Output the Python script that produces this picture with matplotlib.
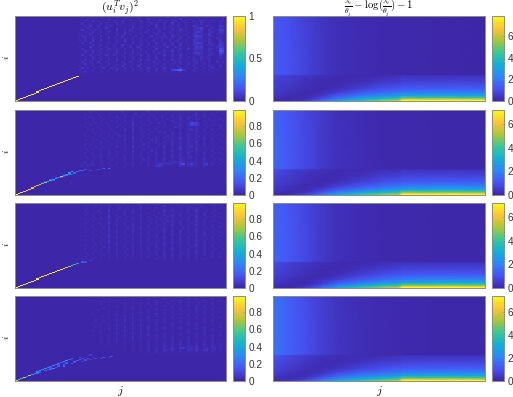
import numpy as np
import matplotlib
matplotlib.use("Agg")
import matplotlib.pyplot as plt
from matplotlib.colors import LinearSegmentedColormap

plt.rcParams['font.family'] = ['Liberation Sans', 'DejaVu Sans']
plt.rcParams['mathtext.fontset'] = 'cm'

parula = LinearSegmentedColormap.from_list('parula', [
    (0.2422, 0.1504, 0.6603), (0.2810, 0.3228, 0.9579), (0.1786, 0.5289, 0.9682),
    (0.0689, 0.6948, 0.8394), (0.2161, 0.7843, 0.5923), (0.6720, 0.7793, 0.2227),
    (0.9970, 0.7659, 0.2199), (0.9769, 0.9839, 0.0805)])

# left column: digit = overlap value / 0.02, rows top to bottom, columns 24..79
noise_1 = [
    "01001000200100110010002001000100131020011000100010010010",
    "10020010010200100201001000201011000100300110020100100020",
    "00100301000101002001000300100020010120011002002100100110",
    "02001000201000201000100100020100200301001000102011000100",
    "00103002001020010100200010100300101002001003110021000320",
    "10020001003000200100300201000100200100102001224100200210",
    "03001020100100300102001000200010100200301002113002001430",
    "00100300200200100200100103001020002001100101332001200320",
    "10002001001000200301000200100200100101002002211103001110",
    "02100100300100102001020010030010200300100102433002100100",
    "00200200100301001000200100100102010100200101322001002100",
    "10100300200100200300100201002001002002001003211102000200",
    "03002001000200100100300100200300100200101002343002100320",
    "00100200301002003001000200100100200100300102222011200410",
    "10003001002001001002003001002010030020100101423001002330",
    "02001000200300100200100200100300100100200302322002100640",
    "00200301001000300100200101002000200302001001211002001860",
    "10100200200100200200301002001020100100100102332001200540",
    "03002001003002001001000300200100300200301001121002100210",
    "00100300100100100200200100100200100100200101002011000100",
    "10200100200200300100100300200100200301001002101002001000",
    "02001003001001002002001001003010010020200101201001002010",
    "00300200100300100300100200100200200100100200100201000100",
    "10100100201001002001003001002001001002001002001002100200",
    "03020010030020100200100200300100300100300100200100200100",
    "20100200100100300100200100100200100467931002001001001000",
    "01200100200100100100100100100100100101201001000100100000",
]
noise_2 = [
    "00000100001000100000100100001000100001001100110000100100",
    "00001000100010002000100000200100010010100100100100001000",
    "00100001000100000100020010010000100100010000200100100010",
    "00001000100000200100100100001002000100100110100100010000",
    "00100100010100010000200000100100010010200100110001000100",
    "00000100100010100200100100100001000200100110100100100010",
    "00100010001000100000300100010020100010100154410010010000",
    "00001000100100010100200010100000100100200143320100100100",
    "00100001000100200000100100000100100020100100110010000100",
    "00010100100010000200300100100100001000100120200100100010",
    "00000100010001000100200010010020100100100100100100010000",
    "00100010100100100000100100100000100200200110100010100100",
    "00010000100100020100200010000100020100100100120100010010",
    "00000100010010000100300100100100100100300200100200100000",
    "00100010001000100200100100020100010100100110100100100100",
    "00000100200100010000200100100100100200100100200100010010",
    "00101000100010100100100020100010100100100110100100100000",
    "00000010010100200100300100100100200100200120100100010100",
    "00100100200100000100100010010100100100300100200010100010",
    "00010000100100100100200100020100100200100110100100100000",
    "00100100100200100000100100100200100100100200100100010100",
    "00000100200100100100200100010100100100200100110100100010",
    "00100010100100100200100100100100100200100120100100100000",
    "00010100100010000100100020100100200100210100100200010100",
    "00100100200100100100100100100100101120310110100100100010",
    "00101200100100100010100100100133122100360241100240100100",
    "11020100010010000100100000100232000000210120100110000000",
]
noise_3 = [
    "00010000100010000100001000100010000100010000100000100000",
    "00100010000200100000100100000100200001000100001000010010",
    "00000100100100020010000200100100000100100010100100000100",
    "00100001000300100100200100001000200100000100200010010000",
    "00010010100100000200100100100010100010100100100100100100",
    "00100100000200100100000200001000100200100010100200010000",
    "00000100100300010010100100100100010100100100200010100100",
    "00100010100100200100200100010010100100010100100100010010",
    "00010100000200100010100200100100020100100100200100100000",
    "00100001100300100100100100010100100100200010100100000100",
    "00000100100100200100200100100010100200100100200100100010",
    "00100100010200100010100200100100100100010100100010100100",
    "00010010100300100100100100010100200100100100200100010000",
    "00100100100100200100200100100010100100200100100100100100",
    "00000100010200100100100200100100100200100010100200010010",
    "00100010100300100010100100010100100100100100200100100100",
    "00010100100100200100200100100100200100100100100010100000",
    "00100100010200100100100100100010100100200100200100100100",
    "00000100100300100010100200100100100200100100100100010010",
    "00100010100100200100100100010100200100100100200100100000",
    "00010100010200100100200100100100100100100010100100100100",
    "00100100100100100010100100100010100200100100100100010010",
    "00000010100200100100100100100100100100100100200100100000",
    "00100100100100200100100100010100100100210100100100100100",
    "00010100010100100010100100100100200100100100100100100000",
    "00100010100100100100100100100010100100100100100000100100",
    "01000100100100100100000100000100100100100100100100000000",
]
noise_4 = [
    "00000000010000000100000100001000010000100100001000000000",
    "00000000000100000000100000100000100010000100100000100000",
    "00000100000000100100000100000100000100100000100100000100",
    "00000000100000000000100000100100010000100100010000100000",
    "00000000000100100100000100010000100100000100100100000000",
    "00000000010000100000200100000100000100100000200100100100",
    "00000001000100000100100000100100100000100100100000100000",
    "00000000000100100100000200100000100100010000100100000100",
    "00000100000000100000200100000200100000100100000100100000",
    "00000000010100100200100100100100000100000100100000100000",
    "00000000000100000100200000200000100100100000100100000100",
    "00000010010000200200100200100100100000100100000100100000",
    "00000000100100100000200100000200100100100100100100000100",
    "00000100000100200100200200100100000100000100100000100000",
    "00000010100100100200100100200000100100100000100100000100",
    "00000000000200200100200100100100100000100100100100100000",
    "00000100100100100200100200100100000100000100000100100100",
    "00000000100000200100200100100000100100100100100100000000",
    "00000100000100100200100100200100100000100000100100100100",
    "00000000100100100100200100000100100100000100100000100000",
    "00000000000100200000100100100100000100100100000100100100",
    "00000000100100100100100000100100100100100100100100100000",
    "00000000000000100100100100100000100100200100100100100100",
    "00000000000100000000100100100100200100100200200100200100",
    "00000000000000000100000100100100100200230120210120120100",
    "00000000000000000000100100100100210200100220310230110100",
    "00000000000000000000000000100200100100100100100100100000",
]
noise_scale = 0.02

# ridge near the diagonal: (row, column, value)
ridge_1 = [(k, k, v) for k, v in enumerate(
    [1, .95, .98, .9, .98, .95, 1, .92, .98, .94, 1, .9, .98, .93, 1, .92, .97, .95, 1, .92, .98, .95, .97, .9])]
ridge_2 = [(k, k, v) for k, v in enumerate(
    [.99, .9, .95, .85, .92, .88, .8, .9, .75, .8, .6, .72, .45, .55, .35, .4, .3, .75, .5, .3, .35, .45])] + [
    (11, 10, .1), (12, 11, .12), (14, 13, .15), (16, 15, .15), (17, 18, .15), (18, 19, .2), (19, 20, .25),
    (21, 23, .2), (22, 24, .25), (22, 25, .15), (23, 26, .12), (22, 28, .12), (23, 31, .12), (24, 33, .14), (24, 35, .2),
    (13, 14, .14), (16, 17, .14), (19, 21, .15), (20, 22, .2)]
ridge_3 = [(k, k, v) for k, v in enumerate(
    [1, .95, .98, .9, .98, .93, .97, .92, .98, .94, .96, .9, .97, .93, .96, .9, .95, .92, .85, .8, .7, .6, .5, .35])] + [
    (24, 25, .15), (24, 26, .1), (25, 28, .08)]
ridge_4 = [(k, k, v) for k, v in enumerate(
    [.9, .6, .55, .85, .3, .75, .4, .35, .3, .4, .3, .35, .3, .2, .35, .25, .2, .15, .3, .35, .2, .15])] + [
    (9, 11, .2), (10, 13, .18), (11, 14, .3), (13, 16, .2), (13, 18, .3), (14, 16, .12), (15, 18, .2),
    (17, 19, .18), (16, 21, .15), (18, 22, .2), (20, 24, .22), (19, 26, .15), (21, 27, .12), (21, 30, .12),
    (22, 33, .14), (23, 36, .14), (20, 28, .08), (18, 25, .08), (22, 24, .12), (24, 28, .08),
    (7, 8, .2), (8, 9, .15), (11, 13, .12), (12, 15, .15), (14, 18, .12), (16, 19, .14), (12, 13, .14), (15, 16, .12),
    (10, 12, .14), (17, 22, .1), (19, 23, .14), (20, 26, .14), (21, 25, .12), (21, 32, .1), (22, 35, .08)]

# right column: coarse table, rows bottom to top
col_grid = [0, 6, 12, 18, 24, 32, 40, 47, 48, 60, 79]
row_grid = [0, 1, 2, 3, 5, 8, 12, 18, 24, 25, 50, 79]
kl_1 = [
    [.1, .2, .7, 1.6, 3.0, 4.2, 5.5, 6.2, 7.8, 7.8, 7.8],
    [.1, .1, .5, 1.4, 2.7, 3.9, 5.0, 5.8, 7.7, 7.7, 7.7],
    [.2, .1, .3, 1.1, 2.3, 3.3, 4.2, 4.8, 6.3, 6.3, 6.3],
    [.3, .1, .2, .8, 1.8, 2.7, 3.4, 3.9, 4.7, 4.7, 4.7],
    [.4, .2, .1, .45, 1.2, 1.9, 2.4, 2.8, 3.1, 3.1, 3.1],
    [.5, .3, .1, .2, .6, 1.2, 1.6, 1.9, 2.0, 2.1, 2.1],
    [.6, .4, .2, .1, .2, .6, .95, 1.15, 1.25, 1.3, 1.3],
    [.7, .5, .3, .15, .1, .2, .45, .6, .65, .7, .7],
    [.8, .6, .4, .25, .15, .12, .18, .25, .3, .3, .3],
    [1.3, 1.05, .75, .45, .22, .16, .1, .08, .08, .05, .03],
    [1.3, 1.05, .75, .45, .22, .16, .1, .08, .08, .05, .03],
    [1.25, 1.0, .7, .42, .22, .16, .1, .08, .08, .05, .03],
]
kl_2 = [
    [.1, .3, .9, 1.9, 3.0, 4.0, 5.2, 5.8, 7.2, 7.2, 7.2],
    [.1, .2, .7, 1.6, 2.7, 3.7, 4.7, 5.3, 7.1, 7.1, 7.1],
    [.2, .1, .5, 1.3, 2.3, 3.2, 3.9, 4.4, 5.8, 5.8, 5.8],
    [.3, .1, .3, 1.0, 1.8, 2.6, 3.2, 3.6, 4.4, 4.4, 4.4],
    [.4, .2, .15, .55, 1.2, 1.8, 2.3, 2.6, 2.9, 3.0, 3.0],
    [.5, .3, .1, .25, .65, 1.15, 1.5, 1.8, 1.9, 2.0, 2.0],
    [.6, .4, .2, .1, .25, .6, .9, 1.1, 1.2, 1.25, 1.25],
    [.75, .5, .3, .15, .1, .25, .45, .6, .65, .7, .7],
    [.9, .65, .45, .25, .15, .12, .18, .25, .3, .3, .3],
    [1.45, 1.1, .8, .5, .26, .17, .11, .08, .08, .05, .03],
    [1.45, 1.1, .8, .5, .26, .17, .11, .08, .08, .05, .03],
    [1.4, 1.05, .75, .48, .25, .16, .1, .08, .08, .05, .03],
]
kl_3 = [
    [.1, .2, .7, 1.6, 3.0, 4.1, 5.3, 6.0, 7.2, 7.2, 7.2],
    [.1, .1, .5, 1.4, 2.7, 3.8, 4.8, 5.5, 7.1, 7.1, 7.1],
    [.2, .1, .3, 1.1, 2.3, 3.2, 4.0, 4.5, 5.8, 5.8, 5.8],
    [.3, .1, .2, .8, 1.8, 2.6, 3.2, 3.7, 4.4, 4.4, 4.4],
    [.4, .2, .1, .45, 1.2, 1.8, 2.3, 2.6, 2.9, 3.0, 3.0],
    [.5, .3, .1, .2, .6, 1.15, 1.5, 1.8, 1.9, 2.0, 2.0],
    [.6, .4, .2, .1, .2, .6, .9, 1.1, 1.2, 1.25, 1.25],
    [.75, .5, .3, .15, .1, .2, .45, .6, .65, .7, .7],
    [.85, .6, .4, .25, .15, .12, .18, .25, .3, .3, .3],
    [1.4, 1.1, .8, .47, .24, .16, .1, .08, .08, .05, .03],
    [1.4, 1.1, .8, .47, .24, .16, .1, .08, .08, .05, .03],
    [1.35, 1.05, .75, .45, .23, .16, .1, .08, .08, .05, .03],
]
kl_4 = [
    [.2, .5, 1.2, 2.2, 3.2, 4.2, 5.3, 5.8, 7.3, 7.3, 7.3],
    [.15, .3, .9, 1.8, 2.9, 3.8, 4.7, 5.3, 7.2, 7.2, 7.2],
    [.2, .2, .6, 1.5, 2.5, 3.2, 3.9, 4.4, 5.8, 5.8, 5.8],
    [.3, .15, .4, 1.1, 1.9, 2.6, 3.2, 3.6, 4.4, 4.4, 4.4],
    [.45, .2, .2, .65, 1.4, 1.9, 2.3, 2.6, 2.9, 3.0, 3.0],
    [.6, .35, .15, .3, .8, 1.25, 1.5, 1.8, 1.9, 2.0, 2.0],
    [.75, .5, .25, .15, .3, .65, .95, 1.1, 1.2, 1.25, 1.25],
    [.9, .65, .4, .2, .15, .3, .5, .6, .65, .7, .7],
    [1.05, .8, .55, .3, .2, .15, .2, .25, .3, .3, .3],
    [1.75, 1.35, .95, .62, .35, .22, .13, .09, .09, .05, .03],
    [1.75, 1.35, .95, .62, .35, .22, .13, .09, .09, .05, .03],
    [1.7, 1.3, .9, .6, .33, .2, .13, .09, .09, .05, .03],
]

left_noise = [noise_1, noise_2, noise_3, noise_4]
left_ridge = [ridge_1, ridge_2, ridge_3, ridge_4]
left_max = [1, 0.99, 0.99, 0.99]
left_ticks = [[0, 0.5, 1], [0, 0.2, 0.4, 0.6, 0.8], [0, 0.2, 0.4, 0.6, 0.8], [0, 0.2, 0.4, 0.6, 0.8]]
right_tables = [kl_1, kl_2, kl_3, kl_4]
right_max = [7.83, 7.2, 7.2, 7.36]
right_ticks = [0, 2, 4, 6]

W, H = 513, 397
panel_top = [16, 110, 203, 296]
panel_h = 85
grey = '#8c8c8c'


def add_ax(x0, y0, w, h):
    return fig.add_axes([x0 / W, 1 - (y0 + h) / H, w / W, h / H])


def style_cbar(cb, ticks, labels=None):
    cb.set_ticks(ticks)
    if labels:
        cb.set_ticklabels(labels)
    cb.ax.tick_params(length=1.5, width=0.4, direction='in', color=grey, pad=2.5, labelsize=7.2, labelcolor='#333333')
    cb.outline.set_edgecolor(grey)
    cb.outline.set_linewidth(0.7)


def build_overlap(rows, ridge):
    m = np.zeros((80, 80))
    block = 54 // len(rows)
    for r, s in enumerate(rows):
        top = 80 - r * block
        vals = [int(c) * noise_scale for c in s.ljust(56, '0')[:56]]
        m[top - block:top, 24:] = vals
    for i, j, v in ridge:
        m[i, j] = v
    return m


fig = plt.figure(figsize=(W / 100, H / 100), dpi=100)

for p in range(4):
    # left: overlap
    ax = add_ax(14.5, panel_top[p], 211.5, panel_h)
    m = build_overlap(left_noise[p], left_ridge[p])
    im = ax.imshow(m, origin='lower', aspect='auto', cmap=parula, vmin=0, vmax=left_max[p],
                   extent=[0, 80, 0, 80], interpolation='nearest')
    ax.set_xticks([])
    ax.set_yticks([])
    for s in ax.spines.values():
        s.set_edgecolor(grey)
        s.set_linewidth(0.7)
    fig.text(6 / W, 1 - (panel_top[p] + 42) / H, '$i$', rotation=90, ha='center', va='center', fontsize=7)
    cax = add_ax(233, panel_top[p], 12, panel_h)
    cb = fig.colorbar(im, cax=cax)
    labels = ['0', '0.5', '1'] if p == 0 else ['0', '0.2', '0.4', '0.6', '0.8']
    style_cbar(cb, left_ticks[p], labels)

    # right: table drawn with gouraud shading
    ax = add_ax(273, panel_top[p], 212, panel_h)
    qm = ax.pcolormesh(col_grid, row_grid, np.array(right_tables[p]), cmap=parula,
                       vmin=0, vmax=right_max[p], shading='gouraud')
    ax.set_xlim(0, 79)
    ax.set_ylim(0, 79)
    ax.set_xticks([])
    ax.set_yticks([])
    for s in ax.spines.values():
        s.set_edgecolor(grey)
        s.set_linewidth(0.7)
    cax = add_ax(492, panel_top[p], 12, panel_h)
    cb = fig.colorbar(qm, cax=cax)
    style_cbar(cb, right_ticks, ['0', '2', '4', '6'])

    if p == 0:
        fig.text(120 / W, 1 - 8 / H, r'$(u_i^T v_j)^2$', ha='center', va='center', fontsize=8.5)
        fig.text(379 / W, 1 - 8 / H, r'$\frac{\lambda_i}{\theta_j}-\log(\frac{\lambda_i}{\theta_j})-1$',
                 ha='center', va='center', fontsize=7.8)
    if p == 3:
        fig.text(120 / W, 1 - 391 / H, '$j$', ha='center', va='center', fontsize=8.5)
        fig.text(379 / W, 1 - 391 / H, '$j$', ha='center', va='center', fontsize=8.5)

fig.savefig('out.png', dpi=100)
